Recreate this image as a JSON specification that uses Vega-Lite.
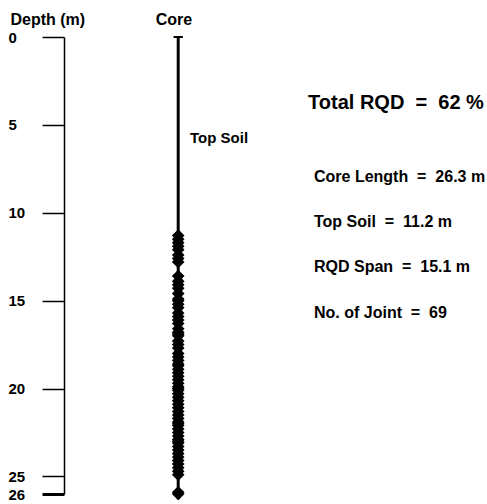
{
  "$schema": "https://vega.github.io/schema/vega-lite/v6.json",
  "width": 423,
  "height": 457,
  "autosize": {"type": "none"},
  "padding": {"left": 64, "top": 37, "right": 0, "bottom": 10},
  "background": "white",
  "config": {
    "view": {"stroke": null},
    "font": "Liberation Sans",
    "text": {"font": "Liberation Sans", "fontWeight": "bold", "color": "black"}
  },
  "datasets": {
    "joints": [
      {"depth": 11.3}, {"depth": 11.5}, {"depth": 11.7}, {"depth": 11.9},
      {"depth": 12.1}, {"depth": 12.4}, {"depth": 12.6}, {"depth": 12.8},
      {"depth": 13.6}, {"depth": 13.9}, {"depth": 14.1}, {"depth": 14.3}, {"depth": 14.6}, {"depth": 14.9},
      {"depth": 15.0}, {"depth": 15.2}, {"depth": 15.4}, {"depth": 15.7}, {"depth": 15.9},
      {"depth": 16.1}, {"depth": 16.3}, {"depth": 16.6}, {"depth": 16.8}, {"depth": 16.9},
      {"depth": 17.0}, {"depth": 17.3}, {"depth": 17.5}, {"depth": 17.7},
      {"depth": 18.0}, {"depth": 18.2}, {"depth": 18.4}, {"depth": 18.6}, {"depth": 18.7}, {"depth": 18.9},
      {"depth": 19.1}, {"depth": 19.3}, {"depth": 19.5}, {"depth": 19.7}, {"depth": 19.9},
      {"depth": 20.0}, {"depth": 20.1}, {"depth": 20.3}, {"depth": 20.5}, {"depth": 20.7}, {"depth": 20.9},
      {"depth": 21.1}, {"depth": 21.3}, {"depth": 21.5}, {"depth": 21.7}, {"depth": 21.9},
      {"depth": 22.0}, {"depth": 22.1}, {"depth": 22.3}, {"depth": 22.5}, {"depth": 22.7}, {"depth": 22.9},
      {"depth": 23.0}, {"depth": 23.1}, {"depth": 23.3}, {"depth": 23.5}, {"depth": 23.7}, {"depth": 23.9},
      {"depth": 24.1}, {"depth": 24.3}, {"depth": 24.5}, {"depth": 24.7}, {"depth": 24.9},
      {"depth": 25.9}, {"depth": 26.0}
    ]
  },
  "layer": [
    {
      "data": {"values": [{}]},
      "mark": {"type": "rule", "color": "black", "strokeWidth": 3},
      "encoding": {
        "x": {"datum": 27, "type": "quantitative", "scale": {"domain": [0, 100], "nice": false, "zero": false}, "axis": null},
        "y": {
          "datum": 0, "type": "quantitative",
          "scale": {"domain": [0, 26], "nice": false, "zero": false, "reverse": true},
          "axis": {
            "title": "Depth (m)", "titleAngle": 0, "titleX": -54, "titleY": -13,
            "titleAlign": "left", "titleBaseline": "alphabetic",
            "titleFont": "Liberation Sans", "titleFontSize": 16, "titleFontWeight": "bold", "titleColor": "black",
            "values": [0, 5, 10, 15, 20, 25, 26], "format": "d",
            "tickSize": 22, "tickColor": "black",
            "tickWidth": {"condition": {"test": "datum.value == 26", "value": 3}, "value": 1.5},
            "domainColor": "black", "domainWidth": 1.5,
            "labelFont": "Liberation Sans", "labelFontSize": 15, "labelFontWeight": "bold", "labelColor": "black",
            "labelAlign": "left", "labelBaseline": "middle", "labelPadding": 34,
            "labelOverlap": false, "labelFlush": false, "grid": false
          }
        },
        "y2": {"datum": 26.3}
      }
    },
    {
      "data": {"values": [{}]},
      "mark": {"type": "rule", "color": "black", "strokeWidth": 2},
      "encoding": {
        "x": {"datum": 25.9, "type": "quantitative"},
        "x2": {"datum": 28.1},
        "y": {"datum": 0, "type": "quantitative"}
      }
    },
    {
      "data": {"name": "joints"},
      "mark": {"type": "point", "shape": "diamond", "filled": true, "color": "black", "size": 160, "opacity": 1},
      "encoding": {
        "x": {"datum": 27, "type": "quantitative"},
        "y": {"field": "depth", "type": "quantitative"}
      }
    },
    {
      "data": {"values": [{"t": "Core"}]},
      "mark": {"type": "text", "align": "center", "baseline": "alphabetic", "fontSize": 16},
      "encoding": {
        "x": {"datum": 26, "type": "quantitative"},
        "y": {"datum": -0.7, "type": "quantitative"},
        "text": {"field": "t"}
      }
    },
    {
      "data": {"values": [{"t": "Top Soil"}]},
      "mark": {"type": "text", "align": "left", "baseline": "alphabetic", "fontSize": 15},
      "encoding": {
        "x": {"datum": 29.8, "type": "quantitative"},
        "y": {"datum": 6.04, "type": "quantitative"},
        "text": {"field": "t"}
      }
    },
    {
      "data": {"values": [{"t": "Total RQD \u00a0=\u00a0 62 %"}]},
      "mark": {"type": "text", "align": "left", "baseline": "alphabetic", "fontSize": 20},
      "encoding": {
        "x": {"datum": 57.7, "type": "quantitative"},
        "y": {"datum": 4.1, "type": "quantitative"},
        "text": {"field": "t"}
      }
    },
    {
      "data": {"values": [{"t": "Core Length \u00a0=\u00a0 26.3 m"}]},
      "mark": {"type": "text", "align": "left", "baseline": "alphabetic", "fontSize": 16},
      "encoding": {
        "x": {"datum": 59.1, "type": "quantitative"},
        "y": {"datum": 8.26, "type": "quantitative"},
        "text": {"field": "t"}
      }
    },
    {
      "data": {"values": [{"t": "Top Soil \u00a0=\u00a0 11.2 m"}]},
      "mark": {"type": "text", "align": "left", "baseline": "alphabetic", "fontSize": 16},
      "encoding": {
        "x": {"datum": 59.1, "type": "quantitative"},
        "y": {"datum": 10.82, "type": "quantitative"},
        "text": {"field": "t"}
      }
    },
    {
      "data": {"values": [{"t": "RQD Span \u00a0=\u00a0 15.1 m"}]},
      "mark": {"type": "text", "align": "left", "baseline": "alphabetic", "fontSize": 16},
      "encoding": {
        "x": {"datum": 59.1, "type": "quantitative"},
        "y": {"datum": 13.38, "type": "quantitative"},
        "text": {"field": "t"}
      }
    },
    {
      "data": {"values": [{"t": "No. of Joint \u00a0=\u00a0 69"}]},
      "mark": {"type": "text", "align": "left", "baseline": "alphabetic", "fontSize": 16},
      "encoding": {
        "x": {"datum": 59.1, "type": "quantitative"},
        "y": {"datum": 16.0, "type": "quantitative"},
        "text": {"field": "t"}
      }
    }
  ]
}
